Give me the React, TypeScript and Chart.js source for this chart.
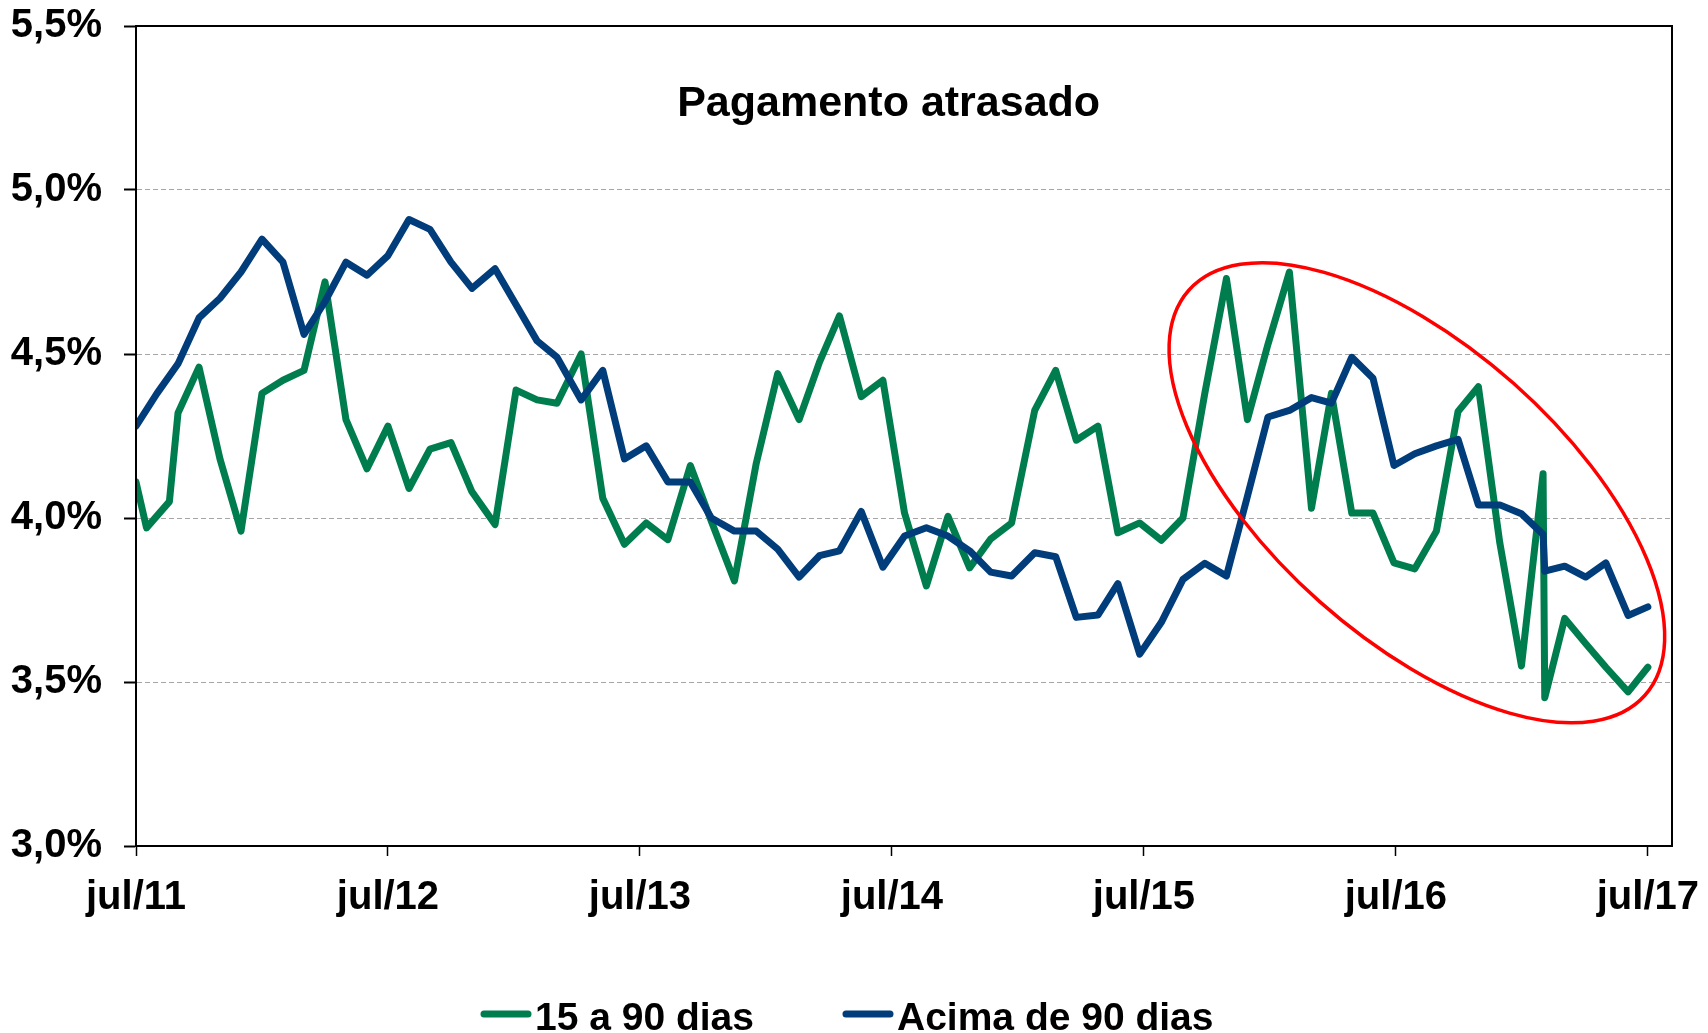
import React, { useEffect, useRef } from 'react';
import { Chart, registerables } from 'chart.js';

Chart.register(...registerables);

const chartTitle = 'Pagamento atrasado';
const seriesNames = ['15 a 90 dias', 'Acima de 90 dias'];
const seriesColors = ['#007D4E', '#003D7A'];

const xTickMonths = [0, 12, 24, 36, 48, 60, 72];
const xTickLabels = ['jul/11', 'jul/12', 'jul/13', 'jul/14', 'jul/15', 'jul/16', 'jul/17'];
const yTickValues = [3.0, 3.5, 4.0, 4.5, 5.0, 5.5];
const yTickLabels = ['3,0%', '3,5%', '4,0%', '4,5%', '5,0%', '5,5%'];

const months15a90 = [
  0, 0.5, 1.59, 2, 3, 4, 5, 6, 7, 8,
  9, 10, 11, 12, 13, 14, 15, 16, 17.1, 18.1,
  19.1, 20.05, 21.2, 22.23, 23.26, 24.3, 25.33, 26.4, 27.4, 28.5,
  29.54, 30.56, 31.58, 32.55, 33.5, 34.54, 35.57, 36.6, 37.64, 38.67,
  39.7, 40.7, 41.7, 42.8, 43.8, 44.78, 45.81, 46.76, 47.8, 48.83,
  49.86, 50.9, 51.93, 52.93, 53.91, 54.93, 55.98, 56.93, 57.9, 58.91,
  59.91, 60.9, 61.93, 62.96, 63.93, 64.95, 65.98, 67.01, 67.09, 68.04,
  69.04, 70.0, 71.06, 72,
];
const values15a90 = [
  4.11, 3.97, 4.05, 4.32, 4.46, 4.18, 3.96, 4.38, 4.42, 4.45,
  4.72, 4.30, 4.15, 4.28, 4.09, 4.21, 4.23, 4.08, 3.98, 4.39,
  4.36, 4.35, 4.50, 4.06, 3.92, 3.985, 3.934, 4.16, 3.99, 3.808,
  4.167, 4.44, 4.30, 4.475, 4.616, 4.37, 4.42, 4.015, 3.793, 4.005,
  3.848, 3.936, 3.985, 4.328, 4.45, 4.237, 4.28, 3.955, 3.985, 3.932,
  4.00, 4.38, 4.73, 4.30, 4.53, 4.75, 4.03, 4.38, 4.015, 4.015,
  3.863, 3.845, 3.96, 4.325, 4.40, 3.924, 3.549, 4.135, 3.452, 3.694,
  3.617, 3.545, 3.47, 3.545,
];

const monthsAcima90 = [
  0, 1, 2, 3, 4, 5, 6, 7, 8, 9,
  10, 11, 12, 13, 14, 15, 16, 17.1, 18.1, 19.1,
  20.05, 21.2, 22.23, 23.26, 24.3, 25.33, 26.4, 27.4, 28.5, 29.54,
  30.56, 31.58, 32.55, 33.5, 34.54, 35.57, 36.6, 37.64, 38.67, 39.7,
  40.7, 41.7, 42.8, 43.8, 44.78, 45.81, 46.76, 47.8, 48.83, 49.86,
  50.9, 51.93, 52.93, 53.91, 54.93, 55.98, 56.93, 57.9, 58.91, 59.91,
  60.9, 61.93, 62.96, 63.93, 64.95, 65.98, 67.01, 67.09, 68.04, 69.04,
  70.0, 71.06, 72,
];
const valuesAcima90 = [
  4.28, 4.38, 4.47, 4.61, 4.67, 4.75, 4.85, 4.78, 4.56, 4.66,
  4.78, 4.74, 4.80, 4.91, 4.88, 4.78, 4.70, 4.76, 4.65, 4.54,
  4.49, 4.36, 4.45, 4.18, 4.22, 4.11, 4.11, 4.00, 3.96, 3.96,
  3.905, 3.82, 3.885, 3.90, 4.02, 3.85, 3.945, 3.97, 3.945, 3.90,
  3.835, 3.823, 3.894, 3.882, 3.697, 3.704, 3.80, 3.585, 3.682, 3.813,
  3.862, 3.823, 4.066, 4.308, 4.328, 4.367, 4.35, 4.49, 4.426, 4.16,
  4.196, 4.22, 4.24, 4.04, 4.04, 4.013, 3.95, 3.838, 3.853, 3.82,
  3.863, 3.703, 3.729,
];

// red highlight ellipse (centre in data units)
const highlight = { month: 61.0, value: 4.077, rx: 305, ry: 146, angleDeg: 41.6 };

const FONT = "'Liberation Sans', Arial, Helvetica, sans-serif";

const toPoints = (xs: number[], ys: number[]) => xs.map((x, i) => ({ x, y: ys[i] }));

const framePlugin = {
  id: 'frame',
  afterDraw(chart: any) {
    const { ctx, chartArea: a } = chart;
    ctx.save();
    ctx.strokeStyle = '#000';
    ctx.lineWidth = 2;
    ctx.strokeRect(a.left, a.top, a.right - a.left, a.bottom - a.top);
    ctx.restore();
  },
};

const ellipsePlugin = {
  id: 'ellipse',
  afterDatasetsDraw(chart: any) {
    const { ctx } = chart;
    const cx = chart.scales.x.getPixelForValue(highlight.month);
    const cy = chart.scales.y.getPixelForValue(highlight.value);
    ctx.save();
    ctx.strokeStyle = '#FF0000';
    ctx.lineWidth = 3.5;
    ctx.beginPath();
    ctx.ellipse(cx, cy, highlight.rx, highlight.ry, (highlight.angleDeg * Math.PI) / 180, 0, Math.PI * 2);
    ctx.stroke();
    ctx.restore();
  },
};

const titlePlugin = {
  id: 'innerTitle',
  afterDraw(chart: any) {
    const { ctx, chartArea: a } = chart;
    ctx.save();
    ctx.fillStyle = '#000';
    ctx.font = `bold 43px ${FONT}`;
    ctx.textAlign = 'center';
    ctx.textBaseline = 'alphabetic';
    ctx.fillText(chartTitle, a.left + (a.right - a.left) * 0.49, a.top + 90);
    ctx.restore();
  },
};

const legendPlugin = {
  id: 'bottomLegend',
  afterDraw(chart: any) {
    const { ctx } = chart;
    ctx.save();
    ctx.font = `bold 39px ${FONT}`;
    ctx.textBaseline = 'alphabetic';
    ctx.textAlign = 'left';
    let x = 481;
    const lineY = 1014;
    const baseY = 1030;
    chart.data.datasets.forEach((ds: any) => {
      ctx.strokeStyle = ds.borderColor;
      ctx.lineWidth = 7;
      ctx.lineCap = 'round';
      ctx.beginPath();
      ctx.moveTo(x + 3, lineY);
      ctx.lineTo(x + 47, lineY);
      ctx.stroke();
      ctx.fillStyle = '#000';
      ctx.fillText(ds.label, x + 54, baseY);
      x += 54 + ctx.measureText(ds.label).width + 89;
    });
    ctx.restore();
  },
};

export default function App() {
  const ref = useRef<HTMLCanvasElement | null>(null);

  useEffect(() => {
    if (!ref.current) return;
    const tickFont = { family: FONT, size: 40, weight: 'bold' as const };
    const chart = new Chart(ref.current, {
      type: 'line',
      data: {
        datasets: [
          {
            label: seriesNames[0],
            data: toPoints(months15a90, values15a90),
            borderColor: seriesColors[0],
            backgroundColor: seriesColors[0],
            borderWidth: 7,
            pointRadius: 0,
            tension: 0,
            borderJoinStyle: 'round',
            borderCapStyle: 'round',
            order: 2,
          },
          {
            label: seriesNames[1],
            data: toPoints(monthsAcima90, valuesAcima90),
            borderColor: seriesColors[1],
            backgroundColor: seriesColors[1],
            borderWidth: 7,
            pointRadius: 0,
            tension: 0,
            borderJoinStyle: 'round',
            borderCapStyle: 'round',
            order: 1,
          },
        ],
      },
      options: {
        animation: false,
        responsive: false,
        maintainAspectRatio: false,
        layout: { padding: { top: 26, right: 36, bottom: 87, left: 0 } },
        plugins: {
          legend: { display: false },
          tooltip: { enabled: false },
          title: { display: false },
        },
        scales: {
          x: {
            type: 'linear',
            min: 0,
            max: 73.15,
            afterBuildTicks: (s: any) => {
              s.ticks = xTickMonths.map((v) => ({ value: v }));
            },
            afterFit: (s: any) => {
              s.height = 100;
              s.paddingLeft = 0;
              s.paddingRight = 0;
            },
            ticks: {
              autoSkip: false,
              maxRotation: 0,
              minRotation: 0,
              padding: 18,
              color: '#000',
              font: tickFont,
              callback: (_v: any, i: number) => xTickLabels[i],
            },
            grid: {
              drawOnChartArea: false,
              drawTicks: true,
              tickLength: 10,
              tickColor: '#000',
              tickWidth: 1.5,
            },
            border: { display: true, color: '#000', width: 2 },
          },
          y: {
            type: 'linear',
            min: 3,
            max: 5.5,
            afterBuildTicks: (s: any) => {
              s.ticks = yTickValues.map((v) => ({ value: v }));
            },
            afterFit: (s: any) => {
              s.width = 136;
              s.paddingTop = 0;
              s.paddingBottom = 0;
            },
            ticks: {
              padding: 22,
              color: '#000',
              font: tickFont,
              callback: (_v: any, i: number) => yTickLabels[i],
            },
            grid: {
              color: (c: any) =>
                c.tick && (c.tick.value === yTickValues[0] || c.tick.value === yTickValues[yTickValues.length - 1])
                  ? 'rgba(0,0,0,0)'
                  : '#A6A6A6',
              lineWidth: 1,
              drawTicks: true,
              tickLength: 12,
              tickColor: '#000',
              tickWidth: 2,
            },
            border: { display: true, color: '#000', width: 2, dash: [5, 3] },
          },
        },
      },
      plugins: [framePlugin, ellipsePlugin, titlePlugin, legendPlugin],
    } as any);
    return () => chart.destroy();
  }, []);

  return (
    <div style={{ position: 'absolute', left: 0, top: 0, width: 1708, height: 1033, background: '#fff' }}>
      <canvas ref={ref} width={1708} height={1033} style={{ width: 1708, height: 1033, display: 'block' }} />
    </div>
  );
}
